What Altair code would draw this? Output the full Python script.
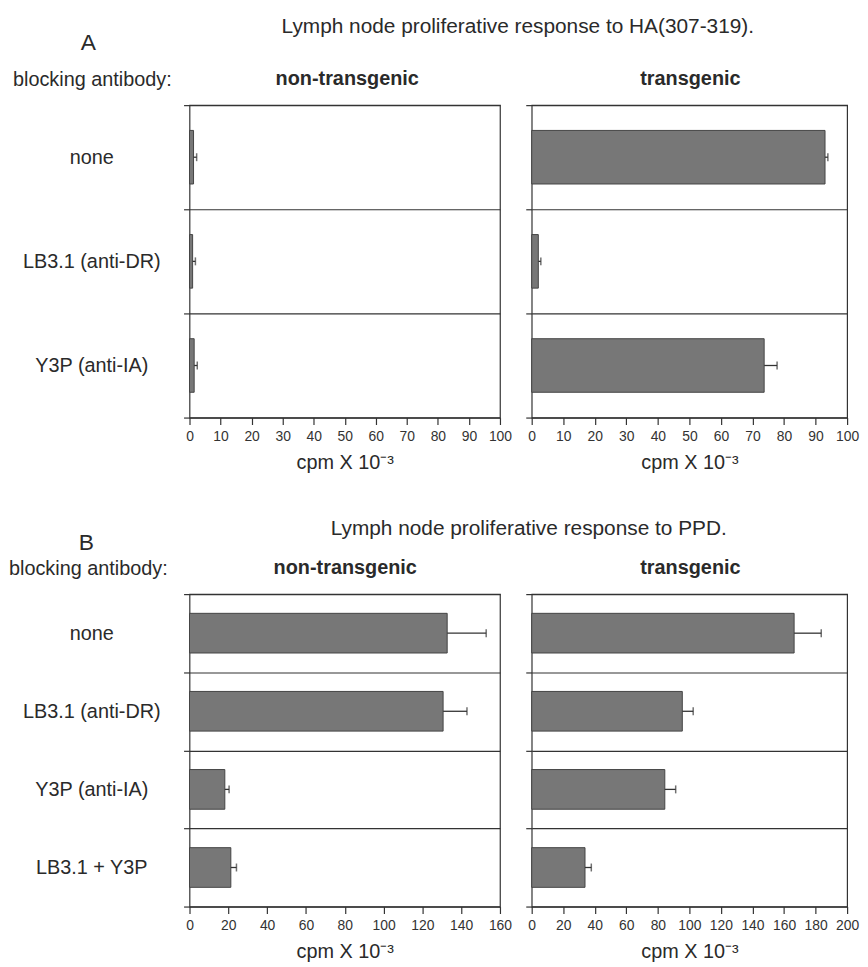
import altair as alt
import pandas as pd

FONT = "Liberation Sans"
INK = "#2a2a2a"
LINE = "#333333"

# ---- data (cpm x 10^-3) ----
rows_a = ["none", "LB3.1 (anti-DR)", "Y3P (anti-IA)"]
a_nontg = [1.3, 1.0, 1.5]
a_nontg_err = [1.0, 0.9, 1.0]
a_tg = [93.0, 2.1, 73.7]
a_tg_err = [0.9, 0.8, 4.1]

rows_b = ["none", "LB3.1 (anti-DR)", "Y3P (anti-IA)", "LB3.1 + Y3P"]
b_nontg = [132.8, 130.7, 18.2, 21.3]
b_nontg_err = [20.1, 12.3, 2.2, 2.9]
b_tg = [166.4, 95.5, 84.4, 33.8]
b_tg_err = [17.2, 6.9, 6.9, 4.0]

ticks_a = list(range(0, 101, 10))
ticks_b_nontg = list(range(0, 161, 20))
ticks_b_tg = list(range(0, 201, 20))

title_a = "Lymph node proliferative response to HA(307-319)."
title_b = "Lymph node proliferative response to PPD."
panel_titles = ["non-transgenic", "transgenic"]
row_header = "blocking antibody:"
x_title = "cpm X 10\u207b\u00b3"


def text_mark(txt, x, y, size=20, weight="normal", align="center"):
    df = pd.DataFrame({"t": [txt]})
    return alt.Chart(df).mark_text(font=FONT, fontSize=size, fontWeight=weight,
                                   align=align, baseline="alphabetic",
                                   color=INK).encode(
        text="t:N", x=alt.value(x), y=alt.value(y))


def panel(rows, vals, errs, xmax, ticks, width, height, left, extra):
    df = pd.DataFrame({"row": rows, "value": vals, "err": errs})
    df["upper"] = df["value"] + df["err"]
    step = height / len(rows)

    xscale = alt.Scale(domain=[0, xmax], nice=False, zero=True)
    xaxis = alt.Axis(values=ticks, title=x_title, grid=False, domain=False,
                     tickSize=7, tickColor=LINE, tickWidth=1.2,
                     labelFontSize=14, labelColor="#333", labelPadding=5,
                     labelFont=FONT, labelFlush=False, labelOverlap=False,
                     titleFont=FONT, titleFontSize=20, titleFontWeight="normal",
                     titleColor=INK, titlePadding=9)
    yscale = alt.Scale(domain=rows, paddingInner=0, paddingOuter=0)
    common_y = dict(tickBand="extent", grid=True, gridColor=LINE, gridWidth=1.2,
                    gridOpacity=1, domain=False, tickSize=6, tickColor=LINE,
                    tickWidth=1.2, title=None)
    if left:
        yaxis = alt.Axis(labels=True, labelAlign="center", labelBaseline="middle",
                         labelPadding=93, labelFontSize=20, labelFont=FONT,
                         labelColor=INK, labelLimit=300, **common_y)
    else:
        yaxis = alt.Axis(labels=False, **common_y)

    x_enc = alt.X("value:Q", scale=xscale, axis=xaxis)
    y_enc = alt.Y("row:N", scale=yscale, axis=yaxis, sort=rows)

    base = alt.Chart(df)
    bars = base.mark_bar(color="#777777", stroke="#444444", strokeWidth=1,
                         size=round(step * 0.51)).encode(x=x_enc, y=y_enc)
    err_line = base.mark_rule(color=LINE, strokeWidth=1.3).encode(
        x=x_enc, x2="upper:Q", y=y_enc)
    err_cap = base.mark_tick(color=LINE, thickness=1.5, size=8).encode(
        x=alt.X("upper:Q", scale=xscale, axis=xaxis), y=y_enc)

    return alt.layer(bars, err_line, err_cap, *extra).properties(
        width=width, height=height)


W_L, W_R, H = 313, 318, 315

a_left = panel(rows_a, a_nontg, a_nontg_err, 100, ticks_a, W_L, H, True, [
    text_mark(title_a, 331, -73, size=21),
    text_mark("A", -102, -56, size=23),
    text_mark(row_header, -178, -19, align="left"),
    text_mark(panel_titles[0], 159, -20, weight="bold"),
])
a_right = panel(rows_a, a_tg, a_tg_err, 100, ticks_a, W_R, H, False, [
    text_mark(panel_titles[1], 160, -20, weight="bold"),
])
b_left = panel(rows_b, b_nontg, b_nontg_err, 160, ticks_b_nontg, W_L, H, True, [
    text_mark(title_b, 342, -60, size=21),
    text_mark("B", -104, -44, size=23),
    text_mark(row_header, -182, -19, align="left"),
    text_mark(panel_titles[0], 157, -20, weight="bold"),
])
b_right = panel(rows_b, b_tg, b_tg_err, 200, ticks_b_tg, W_R, H, False, [
    text_mark(panel_titles[1], 160, -20, weight="bold"),
])

chart = alt.concat(a_left, a_right, b_left, b_right, columns=2,
                   spacing={"row": 178, "column": 32}, bounds="flush",
                   align="each").properties(
    padding={"left": 0, "top": 3, "right": 0, "bottom": 0}
).configure_view(stroke=LINE, strokeWidth=1.2)

chart.save("out.html", embed_options={"renderer": "svg", "actions": False})
